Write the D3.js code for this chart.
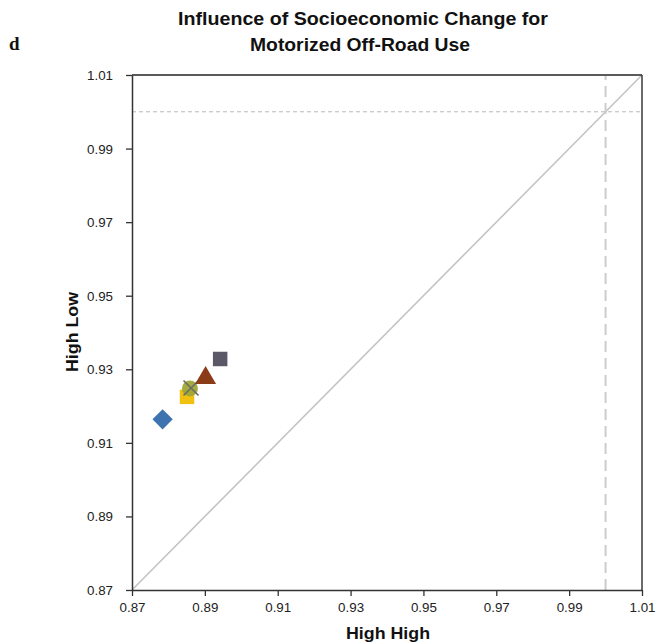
<!DOCTYPE html>
<html><head><meta charset="utf-8">
<script src="https://cdn.jsdelivr.net/npm/d3@7"></script>
<style>body{margin:0;background:#fff}svg{display:block}</style>
</head><body>
<svg id="c" width="668" height="644"></svg>
<script>
const titleLines = ["Influence of Socioeconomic Change for", "Motorized Off-Road Use"];
const panelLabel = "d";
const xLabel = "High High";
const yLabel = "High Low";
const tickValues = [0.87, 0.89, 0.91, 0.93, 0.95, 0.97, 0.99, 1.01];
const pointNames = ["diamond", "square-yellow", "circle", "cross", "triangle", "square-slate"];
const pointX = [0.8784, 0.8851, 0.8859, 0.8862, 0.8902, 0.8942];
const pointY = [0.9164, 0.9225, 0.9248, 0.9249, 0.9279, 0.9328];
const pointShapes = ["diamond", "square", "circle", "cross", "triangle", "square"];
const pointColors = ["#3d73ae", "#f1c112", "#a0a636", "#6b6b6b", "#8b3b16", "#5b5868"];
const refValue = 1.0;

const svg = d3.select("#c");
const m = {l:132, r:642, t:75, b:590};
const x = d3.scaleLinear().domain([0.87, 1.01]).range([m.l, m.r]);
const y = d3.scaleLinear().domain([0.87, 1.01]).range([m.b, m.t]);
const sans = "Liberation Sans, Arial, sans-serif";

// title
svg.append("text").attr("x", 363).attr("y", 25).attr("text-anchor","middle")
  .attr("font-family",sans).attr("font-weight","bold").attr("font-size",17.5)
  .attr("textLength",370).attr("lengthAdjust","spacingAndGlyphs")
  .attr("fill","#111").text(titleLines[0]);
svg.append("text").attr("x", 360).attr("y", 51).attr("text-anchor","middle")
  .attr("font-family",sans).attr("font-weight","bold").attr("font-size",17.5)
  .attr("textLength",220).attr("lengthAdjust","spacingAndGlyphs")
  .attr("fill","#111").text(titleLines[1]);
svg.append("text").attr("x", 9).attr("y", 50)
  .attr("font-family","Liberation Serif, Times New Roman, serif").attr("font-weight","bold").attr("font-size",19)
  .attr("fill","#111").text(panelLabel);

// diagonal
svg.append("line").attr("x1", x(0.87)).attr("y1", y(0.87)).attr("x2", x(1.01)).attr("y2", y(1.01))
  .attr("stroke","#c4c4c4").attr("stroke-width",1.6);
// reference dashed
svg.append("line").attr("x1", x(0.87)).attr("x2", x(1.01)).attr("y1", y(refValue)).attr("y2", y(refValue))
  .attr("stroke","#b9b9b9").attr("stroke-width",1).attr("stroke-dasharray","4,3");
svg.append("line").attr("x1", x(refValue)).attr("x2", x(refValue)).attr("y1", y(0.87)).attr("y2", y(1.01))
  .attr("stroke","#cccccc").attr("stroke-width",2).attr("stroke-dasharray","11,6");

// frame top/right
svg.append("line").attr("x1", m.l).attr("x2", m.r).attr("y1", m.t).attr("y2", m.t).attr("stroke","#5a5a5a").attr("stroke-width",2);
svg.append("line").attr("x1", m.r).attr("x2", m.r).attr("y1", m.t).attr("y2", m.b).attr("stroke","#3a3a3a").attr("stroke-width",1.5);

// axes
const fmt = d3.format(".2f");
const xa = svg.append("g").attr("transform",`translate(0,${m.b})`)
  .call(d3.axisBottom(x).tickValues(tickValues).tickFormat(fmt).tickSize(6).tickSizeOuter(0));
const ya = svg.append("g").attr("transform",`translate(${m.l},0)`)
  .call(d3.axisLeft(y).tickValues(tickValues).tickFormat(fmt).tickSize(6).tickSizeOuter(0));
[xa, ya].forEach(g => {
  g.attr("font-size", 13).attr("font-family", sans);
  g.select(".domain").attr("stroke","#333").attr("stroke-width",1.5);
  g.selectAll(".tick line").attr("stroke","#333").attr("stroke-width",1.3);
  g.selectAll(".tick text").attr("font-family",sans).attr("font-size",13).attr("fill","#222")
    .attr("textLength",26).attr("lengthAdjust","spacingAndGlyphs");
});
xa.selectAll(".tick text").attr("y", 10).attr("dy","0.95em");
ya.selectAll(".tick text").attr("x",-19).attr("dy","0.35em");

svg.append("text").attr("x", 388).attr("y", 639).attr("text-anchor","middle")
  .attr("font-family",sans).attr("font-weight","bold").attr("font-size",17)
  .attr("textLength",84).attr("lengthAdjust","spacingAndGlyphs")
  .attr("fill","#111").text(xLabel);
svg.append("text").attr("transform",`translate(78,332) rotate(-90)`).attr("text-anchor","middle")
  .attr("font-family",sans).attr("font-weight","bold").attr("font-size",17)
  .attr("textLength",80).attr("lengthAdjust","spacingAndGlyphs")
  .attr("fill","#111").text(yLabel);

// points
const symMap = {diamond: d3.symbolSquare, square: d3.symbolSquare, circle: d3.symbolCircle, triangle: d3.symbolTriangle};
const sizeMap = {diamond: 205, square: 210, circle: 200, triangle: 190};
const pts = svg.append("g");
pointX.forEach((vx, i) => {
  const sh = pointShapes[i];
  const cx = x(vx), cy = y(pointY[i]);
  if (sh === "cross") {
    const s = 7.5;
    pts.append("path").attr("d",`M${cx-s},${cy-s}L${cx+s},${cy+s}M${cx-s},${cy+s}L${cx+s},${cy-s}`)
      .attr("stroke", pointColors[i]).attr("stroke-width",1.6).attr("fill","none");
  } else {
    const p = pts.append("path").attr("d", d3.symbol().type(symMap[sh]).size(sizeMap[sh])())
      .attr("fill", pointColors[i]);
    if (sh === "diamond") p.attr("transform",`translate(${cx},${cy}) rotate(45)`);
    else if (sh === "triangle") p.attr("transform",`translate(${cx},${cy+1})`);
    else p.attr("transform",`translate(${cx},${cy})`);
    if (sh === "circle") p.attr("fill-opacity",0.95);
  }
});
</script>
</body></html>
